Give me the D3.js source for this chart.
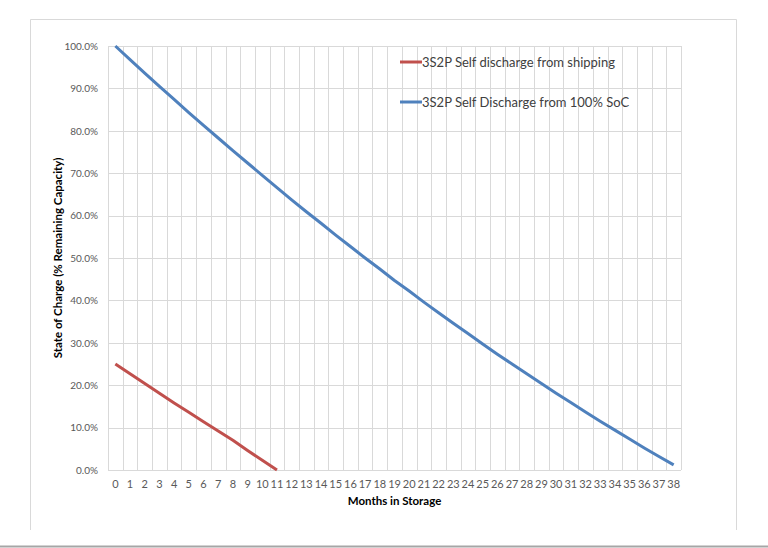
<!DOCTYPE html>
<html>
<head>
<meta charset="utf-8">
<script src="https://cdn.jsdelivr.net/npm/d3@7"></script>
<style>
  body { margin: 0; background: #fff; }
  svg { display: block; font-family: Lato, "Open Sans", sans-serif; }
</style>
</head>
<body>
<svg id="chart" width="768" height="548"></svg>
<script>
// months on the x axis
const months = d3.range(0, 39).map(String);
const yTicks = [0, 10, 20, 30, 40, 50, 60, 70, 80, 90, 100];

// 3S2P self discharge from shipping (months 0..11)
const shipping = [25.0, 22.7, 20.4, 18.1, 15.8, 13.6, 11.4, 9.2, 7.0, 4.6, 2.3, 0.0];

// 3S2P self discharge from 100% SoC (months 0..38)
const fromFull = [100, 96.8, 93.6, 90.5, 87.4, 84.3, 81.3, 78.3, 75.3, 72.4,
  69.5, 66.6, 63.7, 60.9, 58.2, 55.4, 52.7, 50.0, 47.4, 44.7,
  42.2, 39.6, 37.1, 34.6, 32.2, 29.7, 27.3, 25.0, 22.7, 20.4,
  18.1, 15.9, 13.7, 11.5, 9.4, 7.3, 5.2, 3.2, 1.2];

const seriesNames = ['3S2P Self discharge from shipping', '3S2P Self Discharge from 100% SoC'];
const seriesColors = ['#c0504d', '#4f81bd'];

const svg = d3.select('#chart');

// outer frame of the chart object
svg.append('path')
  .attr('d', 'M30.5,530 V19.5 H736.5 V530')
  .attr('fill', 'none')
  .attr('stroke', '#d9d9d9');
svg.append('line')
  .attr('x1', 0).attr('x2', 768)
  .attr('y1', 546.5).attr('y2', 546.5)
  .attr('stroke', '#a6a6a6')
  .attr('stroke-width', 2);

const margin = {top: 46, left: 108, right: 87, bottom: 78};
const width = 768 - margin.left - margin.right;
const height = 548 - margin.top - margin.bottom;

const x = d3.scaleBand().domain(months).range([0, width]);
const y = d3.scaleLinear().domain([0, 100]).range([height, 0]);

const g = svg.append('g').attr('transform', 'translate(' + margin.left + ',' + margin.top + ')');

// vertical gridlines between categories
const bounds = months.map(m => x(m)).concat([width]);
g.append('g')
  .selectAll('line')
  .data(bounds)
  .join('line')
  .attr('x1', d => Math.round(d) + 0.5).attr('x2', d => Math.round(d) + 0.5)
  .attr('y1', 0).attr('y2', height)
  .attr('stroke', '#d9d9d9');

// horizontal gridlines
g.append('g')
  .selectAll('line')
  .data(yTicks)
  .join('line')
  .attr('x1', 0).attr('x2', width)
  .attr('y1', d => Math.round(y(d)) + 0.5).attr('y2', d => Math.round(y(d)) + 0.5)
  .attr('stroke', '#d9d9d9');

const yAxis = d3.axisLeft(y).tickValues(yTicks).tickSize(0).tickPadding(10)
  .tickFormat(d => d.toFixed(1) + '%');
g.append('g')
  .call(yAxis)
  .call(a => a.select('.domain').remove())
  .selectAll('text')
  .attr('font-family', 'Lato, sans-serif')
  .attr('font-size', 10)
  .attr('fill', '#595959');

const xAxis = d3.axisBottom(x).tickSize(0).tickPadding(10);
g.append('g')
  .attr('transform', 'translate(0,' + height + ')')
  .call(xAxis)
  .call(a => a.select('.domain').remove())
  .selectAll('text')
  .attr('font-family', 'Lato, sans-serif')
  .attr('font-size', 11)
  .attr('fill', '#595959');

// axis titles
svg.append('text')
  .attr('x', margin.left + width / 2)
  .attr('y', 505)
  .attr('text-anchor', 'middle')
  .attr('font-size', 11.5)
  .attr('font-weight', 'bold')
  .attr('fill', '#000')
  .text('Months in Storage');

svg.append('text')
  .attr('transform', 'translate(62,' + (margin.top + height / 2) + ') rotate(-90)')
  .attr('text-anchor', 'middle')
  .attr('font-size', 11.5)
  .attr('font-weight', 'bold')
  .attr('fill', '#000')
  .text('State of Charge (% Remaining Capacity)');

const line = d3.line()
  .x((d, i) => x(months[i]) + x.bandwidth() / 2)
  .y(d => y(d));

[shipping, fromFull].forEach((s, i) => {
  g.append('path')
    .attr('d', line(s))
    .attr('fill', 'none')
    .attr('stroke', seriesColors[i])
    .attr('stroke-width', 3)
    .attr('stroke-linejoin', 'round');
});

// legend
const legend = svg.append('g').attr('transform', 'translate(400,62)');
seriesNames.forEach((name, i) => {
  const row = legend.append('g').attr('transform', 'translate(0,' + (i * 40) + ')');
  row.append('line')
    .attr('x1', 0).attr('x2', 22)
    .attr('y1', 0).attr('y2', 0)
    .attr('stroke', seriesColors[i])
    .attr('stroke-width', 3);
  row.append('text')
    .attr('x', 22)
    .attr('y', 0)
    .attr('dy', '0.35em')
    .attr('font-size', 13)
    .attr('fill', '#404040')
    .text(name);
});
</script>
</body>
</html>
